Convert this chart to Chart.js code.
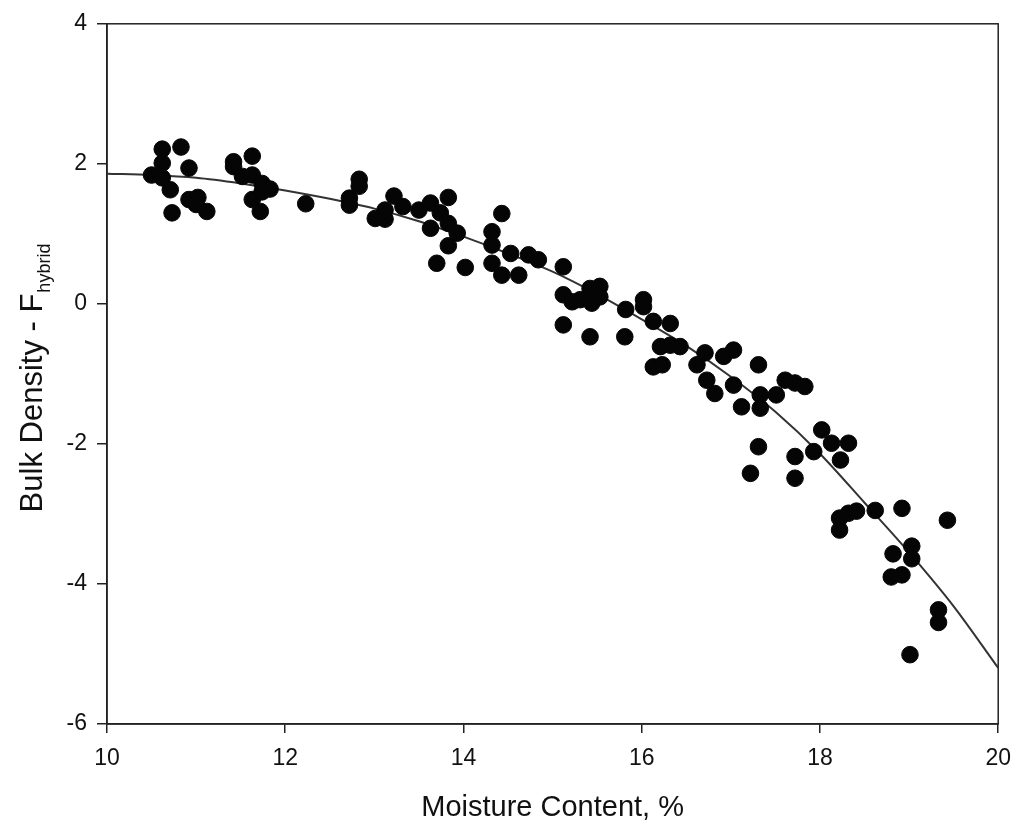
<!DOCTYPE html>
<html>
<head>
<meta charset="utf-8">
<script src="https://cdn.jsdelivr.net/npm/chart.js@4.4.0/dist/chart.umd.min.js"></script>
<style>
  body { margin: 0; background: #fff; }
  #wrap { width: 1023px; height: 824px; }
</style>
</head>
<body>
<div id="wrap"><canvas id="chartscatter"></canvas></div>
<script>
// measured points (moisture %, bulk density)
const pointX = [10.50, 10.62, 10.62, 10.62, 10.83, 10.92, 10.71, 10.73, 10.92, 11.02, 11.12, 11.00,
  11.42, 11.42, 11.63, 11.52, 11.63, 11.74, 11.83, 11.63, 11.72, 11.74,
  12.23, 12.72, 12.72, 12.83, 12.83,
  13.22, 13.32, 13.01, 13.12, 13.12,
  13.50, 13.63, 13.63, 13.74, 13.83, 13.83, 13.93, 13.83, 13.70, 14.02,
  14.32, 14.43, 14.32, 14.32, 14.43, 14.53, 14.62, 14.73, 14.84,
  15.12, 15.12, 15.22, 15.31, 15.42, 15.53, 15.44, 15.53, 15.12, 15.42,
  15.82, 15.81, 16.02, 16.02, 16.13, 16.32, 16.21, 16.32, 16.43, 16.13, 16.23,
  16.62, 16.71, 16.73, 16.82, 16.92, 17.03, 17.03, 17.12,
  17.31, 17.33, 17.33, 17.51, 17.61, 17.72, 17.83,
  17.31, 17.22, 17.72, 17.72,
  17.93, 18.02, 18.13, 18.32, 18.23,
  18.22, 18.32, 18.41, 18.22, 18.62,
  18.92, 19.43, 19.03, 19.03, 18.82, 18.80, 18.92, 19.33, 19.33, 19.01];
const pointY = [1.84, 1.80, 2.21, 2.01, 2.24, 1.94, 1.63, 1.30, 1.49, 1.52, 1.32, 1.42,
  2.03, 1.96, 2.11, 1.82, 1.84, 1.72, 1.64, 1.49, 1.32, 1.60,
  1.43, 1.51, 1.41, 1.78, 1.68,
  1.54, 1.39, 1.22, 1.34, 1.21,
  1.34, 1.44, 1.08, 1.30, 1.52, 1.15, 1.01, 0.83, 0.58, 0.52,
  1.03, 1.29, 0.84, 0.58, 0.41, 0.72, 0.41, 0.70, 0.63,
  0.53, 0.13, 0.03, 0.06, 0.22, 0.25, 0.01, 0.10, -0.30, -0.47,
  -0.08, -0.47, 0.06, -0.04, -0.25, -0.28, -0.61, -0.59, -0.61, -0.90, -0.87,
  -0.87, -0.70, -1.09, -1.28, -0.75, -0.66, -1.16, -1.47,
  -0.87, -1.30, -1.49, -1.30, -1.09, -1.13, -1.18,
  -2.04, -2.42, -2.18, -2.49,
  -2.11, -1.80, -1.99, -1.99, -2.23,
  -3.06, -2.99, -2.96, -3.23, -2.95,
  -2.92, -3.09, -3.46, -3.64, -3.57, -3.90, -3.87, -4.37, -4.55, -5.01];

// fitted curve
const curveX = [10, 10.5, 11, 11.5, 12, 12.5, 13, 13.5, 14, 14.5, 15, 15.5, 16, 16.5, 17, 17.5, 18, 18.5, 19, 19.5, 20];
const curveY = [1.86, 1.84, 1.80, 1.72, 1.62, 1.50, 1.36, 1.18, 0.96, 0.72, 0.46, 0.14, -0.22, -0.60, -1.04, -1.54, -2.14, -2.84, -3.55, -4.32, -5.20];

const xTicks = [10, 12, 14, 16, 18, 20];
const yTicks = [-6, -4, -2, 0, 2, 4];

const FONT = '"Liberation Sans", Arial, Helvetica, sans-serif';
const INK = '#111';

const framePlugin = {
  id: 'frame',
  beforeDatasetsDraw(chart) {
    const a = chart.chartArea;
    const c = chart.ctx;
    c.save();
    c.strokeStyle = '#222';
    c.lineWidth = 1.5;
    c.strokeRect(a.left, a.top, a.right - a.left, a.bottom - a.top);
    c.restore();
  },
  afterDraw(chart) {
    const a = chart.chartArea;
    const c = chart.ctx;
    c.save();
    c.fillStyle = INK;
    // x title
    c.font = '29px ' + FONT;
    c.textAlign = 'center';
    c.textBaseline = 'alphabetic';
    c.fillText('Moisture Content, %', (a.left + a.right) / 2, 816);
    // y title with subscript
    const main = 'Bulk Density - F';
    const sub = 'hybrid';
    c.font = '31px ' + FONT;
    const wMain = c.measureText(main).width;
    c.font = '18px ' + FONT;
    const wSub = c.measureText(sub).width;
    const total = wMain + wSub + 1;
    c.translate(42, 378);
    c.rotate(-Math.PI / 2);
    c.textAlign = 'left';
    c.font = '31px ' + FONT;
    c.fillText(main, -total / 2, 0);
    c.font = '18px ' + FONT;
    c.fillText(sub, -total / 2 + wMain + 1, 8);
    c.restore();
  }
};

const ctx = document.getElementById('chartscatter').getContext('2d');

const chartscatter = new Chart(ctx, {
  type: 'scatter',
  data: {
    datasets: [{
      label: 'Data',
      data: pointX.map((x, i) => ({ x: x, y: pointY[i] })),
      backgroundColor: '#050505',
      borderColor: '#050505',
      pointRadius: 8.3,
      pointHoverRadius: 8.3,
      order: 1
    }, {
      label: 'Fit',
      type: 'line',
      data: curveX.map((x, i) => ({ x: x, y: curveY[i] })),
      borderColor: '#333',
      borderWidth: 2,
      pointRadius: 0,
      fill: false,
      cubicInterpolationMode: 'monotone',
      order: 2
    }]
  },
  options: {
    responsive: true,
    maintainAspectRatio: false,
    animation: false,
    layout: { padding: { top: 23, right: 12, left: 0, bottom: 0 } },
    plugins: {
      legend: { display: false },
      tooltip: { enabled: false }
    },
    scales: {
      x: {
        type: 'linear',
        min: 10,
        max: 20,
        afterFit: (s) => { s.height = 100; },
        afterBuildTicks: (s) => { s.ticks = xTicks.map(v => ({ value: v })); },
        ticks: { padding: 12, color: INK, font: { family: FONT, size: 23 } },
        grid: { drawOnChartArea: false, drawTicks: true, tickLength: 9, color: '#222', lineWidth: 1.5 },
        border: { display: true, color: '#222', width: 1.5 }
      },
      y: {
        type: 'linear',
        min: -6,
        max: 4,
        afterFit: (s) => { s.width = 107; },
        afterBuildTicks: (s) => { s.ticks = yTicks.map(v => ({ value: v })); },
        ticks: { padding: 10, color: INK, font: { family: FONT, size: 23 } },
        grid: { drawOnChartArea: false, drawTicks: true, tickLength: 10, color: '#222', lineWidth: 1.5 },
        border: { display: true, color: '#222', width: 1.5 }
      }
    }
  },
  plugins: [framePlugin]
});
</script>
</body>
</html>
